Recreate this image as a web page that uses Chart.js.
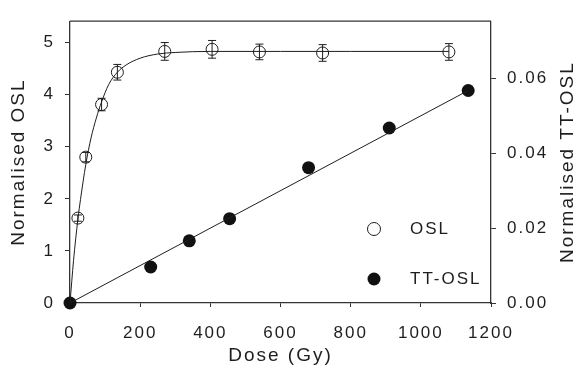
<!DOCTYPE html>
<html>
<head>
<meta charset="utf-8">
<script src="https://cdn.jsdelivr.net/npm/chart.js@4/dist/chart.umd.min.js"></script>
<style>
  html, body { margin: 0; padding: 0; background: #fff; }
  #wrap { width: 579px; height: 382px; }
</style>
</head>
<body>
<div id="wrap"><canvas id="doseChart" width="579" height="382"></canvas></div>
<script>
// OSL points (left axis)
const oslDose = [22.5, 45, 90, 135, 270, 405, 540, 720, 1080];
const oslValue = [1.63, 2.80, 3.81, 4.43, 4.83, 4.87, 4.82, 4.80, 4.82];
const oslError = [0.06, 0.09, 0.12, 0.15, 0.17, 0.17, 0.15, 0.16, 0.16];

// saturating fit through OSL
const oslFitDose = [0, 10, 22.5, 30, 45, 60, 75, 90, 110, 135, 160, 200, 250, 300, 400, 600, 800, 1080];
const oslFitValue = [0, 0.81, 1.61, 1.99, 2.66, 3.17, 3.55, 3.86, 4.19, 4.43, 4.57, 4.70, 4.78, 4.81, 4.83, 4.83, 4.83, 4.83];

// TT-OSL points (right axis)
const ttDose = [0, 230, 340, 455, 680, 910, 1135];
const ttValue = [0, 0.0096, 0.0166, 0.0225, 0.0361, 0.0467, 0.0567];

// linear fit through TT-OSL
const ttFitDose = [0, 1135];
const ttFitValue = [0, 0.0567];

const xTicks = [0, 200, 400, 600, 800, 1000, 1200];
const leftTicks = [0, 1, 2, 3, 4, 5];
const rightTicks = [0, 0.02, 0.04, 0.06];

const INK = '#1e1e1e';
const FONT = '"Liberation Sans", Arial, sans-serif';

const toPoints = (xs, ys) => xs.map((x, i) => ({ x: x, y: ys[i] }));

Chart.defaults.font.family = FONT;
Chart.defaults.color = INK;

const spacingPlugin = {
  id: 'spacing',
  beforeDraw: (chart) => {
    chart.ctx.letterSpacing = '2px';
  }
};

const extrasPlugin = {
  id: 'extras',
  afterDatasetsDraw: (chart) => {
    const ctx = chart.ctx;
    const xs = chart.scales.x;
    const ys = chart.scales.y;
    // error bars
    ctx.save();
    ctx.strokeStyle = INK;
    ctx.lineWidth = 1;
    oslDose.forEach((d, i) => {
      const px = xs.getPixelForValue(d);
      const top = ys.getPixelForValue(oslValue[i] + oslError[i]);
      const bot = ys.getPixelForValue(oslValue[i] - oslError[i]);
      ctx.beginPath();
      ctx.moveTo(px, top);
      ctx.lineTo(px, bot);
      ctx.moveTo(px - 4, top);
      ctx.lineTo(px + 4, top);
      ctx.moveTo(px - 4, bot);
      ctx.lineTo(px + 4, bot);
      ctx.stroke();
    });
    ctx.restore();
  },
  afterDraw: (chart) => {
    const ctx = chart.ctx;
    const area = chart.chartArea;
    ctx.save();
    // top frame
    ctx.strokeStyle = '#333';
    ctx.lineWidth = 1.3;
    ctx.beginPath();
    ctx.moveTo(area.left, area.top);
    ctx.lineTo(area.right, area.top);
    ctx.stroke();

    // legend
    ctx.lineWidth = 1;
    ctx.strokeStyle = INK;
    ctx.beginPath();
    ctx.arc(374, 229, 6.5, 0, Math.PI * 2);
    ctx.stroke();
    ctx.fillStyle = '#111';
    ctx.beginPath();
    ctx.arc(374, 279, 6.5, 0, Math.PI * 2);
    ctx.fill();
    ctx.fillStyle = INK;
    ctx.font = '17px ' + FONT;
    ctx.letterSpacing = '2px';
    ctx.textAlign = 'left';
    ctx.textBaseline = 'middle';
    ctx.fillText('OSL', 410, 229);
    ctx.fillText('TT-OSL', 410, 279);

    // right axis title, reading bottom to top
    ctx.font = '19px ' + FONT;
    ctx.textAlign = 'center';
    ctx.translate(568, (area.top + area.bottom) / 2);
    ctx.rotate(-Math.PI / 2);
    ctx.fillText('Normalised TT-OSL', 0, 0);
    ctx.restore();
  }
};

new Chart(document.getElementById('doseChart'), {
  type: 'scatter',
  data: {
    datasets: [
      {
        label: 'TT-OSL fit',
        data: toPoints(ttFitDose, ttFitValue),
        yAxisID: 'y2',
        showLine: true,
        borderColor: INK,
        borderWidth: 1,
        pointRadius: 0
      },
      {
        label: 'OSL fit',
        data: toPoints(oslFitDose, oslFitValue),
        yAxisID: 'y',
        showLine: true,
        cubicInterpolationMode: 'monotone',
        borderColor: INK,
        borderWidth: 1,
        pointRadius: 0
      },
      {
        label: 'OSL',
        data: toPoints(oslDose, oslValue),
        yAxisID: 'y',
        pointRadius: 6,
        pointBorderWidth: 1,
        pointBorderColor: INK,
        pointBackgroundColor: 'rgba(0,0,0,0)'
      },
      {
        label: 'TT-OSL',
        data: toPoints(ttDose, ttValue),
        yAxisID: 'y2',
        clip: false,
        pointRadius: 6.5,
        pointBorderWidth: 0,
        pointBackgroundColor: '#111'
      }
    ]
  },
  options: {
    responsive: false,
    animation: false,
    layout: { padding: { top: 7, left: 0, right: 0, bottom: 0 } },
    plugins: {
      legend: { display: false },
      tooltip: { enabled: false }
    },
    scales: {
      x: {
        type: 'linear',
        min: 0,
        max: 1200,
        afterFit: (s) => { s.height = 79; },
        afterBuildTicks: (s) => { s.ticks = xTicks.map(v => ({ value: v })); },
        grid: { display: true, drawOnChartArea: false, tickLength: 4, color: '#333', lineWidth: 1 },
        border: { display: true, color: '#333', width: 1.3 },
        ticks: { padding: 16, font: { size: 17 }, color: INK, maxRotation: 0, autoSkip: false, callback: (v) => String(v) },
        title: { display: true, text: 'Dose (Gy)', font: { size: 19 }, color: INK, padding: { top: 0, bottom: 15 } }
      },
      y: {
        type: 'linear',
        position: 'left',
        min: 0,
        max: 5.41,
        afterFit: (s) => { s.width = 70; },
        afterBuildTicks: (s) => { s.ticks = leftTicks.map(v => ({ value: v })); },
        grid: { display: true, drawOnChartArea: false, tickLength: 5, color: '#333', lineWidth: 1 },
        border: { display: true, color: '#333', width: 1.3 },
        ticks: { padding: 10, font: { size: 17 }, color: INK, callback: (v) => String(v) },
        title: { display: true, text: 'Normalised OSL', font: { size: 19 }, color: INK, padding: { top: 7, bottom: 0 } }
      },
      y2: {
        type: 'linear',
        position: 'right',
        min: 0,
        max: 0.0752,
        afterFit: (s) => { s.width = 88; },
        afterBuildTicks: (s) => { s.ticks = rightTicks.map(v => ({ value: v })); },
        grid: { display: true, drawOnChartArea: false, tickLength: 5, color: '#333', lineWidth: 1 },
        border: { display: true, color: '#333', width: 1.3 },
        ticks: { padding: 11, font: { size: 17 }, color: INK, callback: (v) => v.toFixed(2) }
      }
    }
  },
  plugins: [spacingPlugin, extrasPlugin]
});
</script>
</body>
</html>
